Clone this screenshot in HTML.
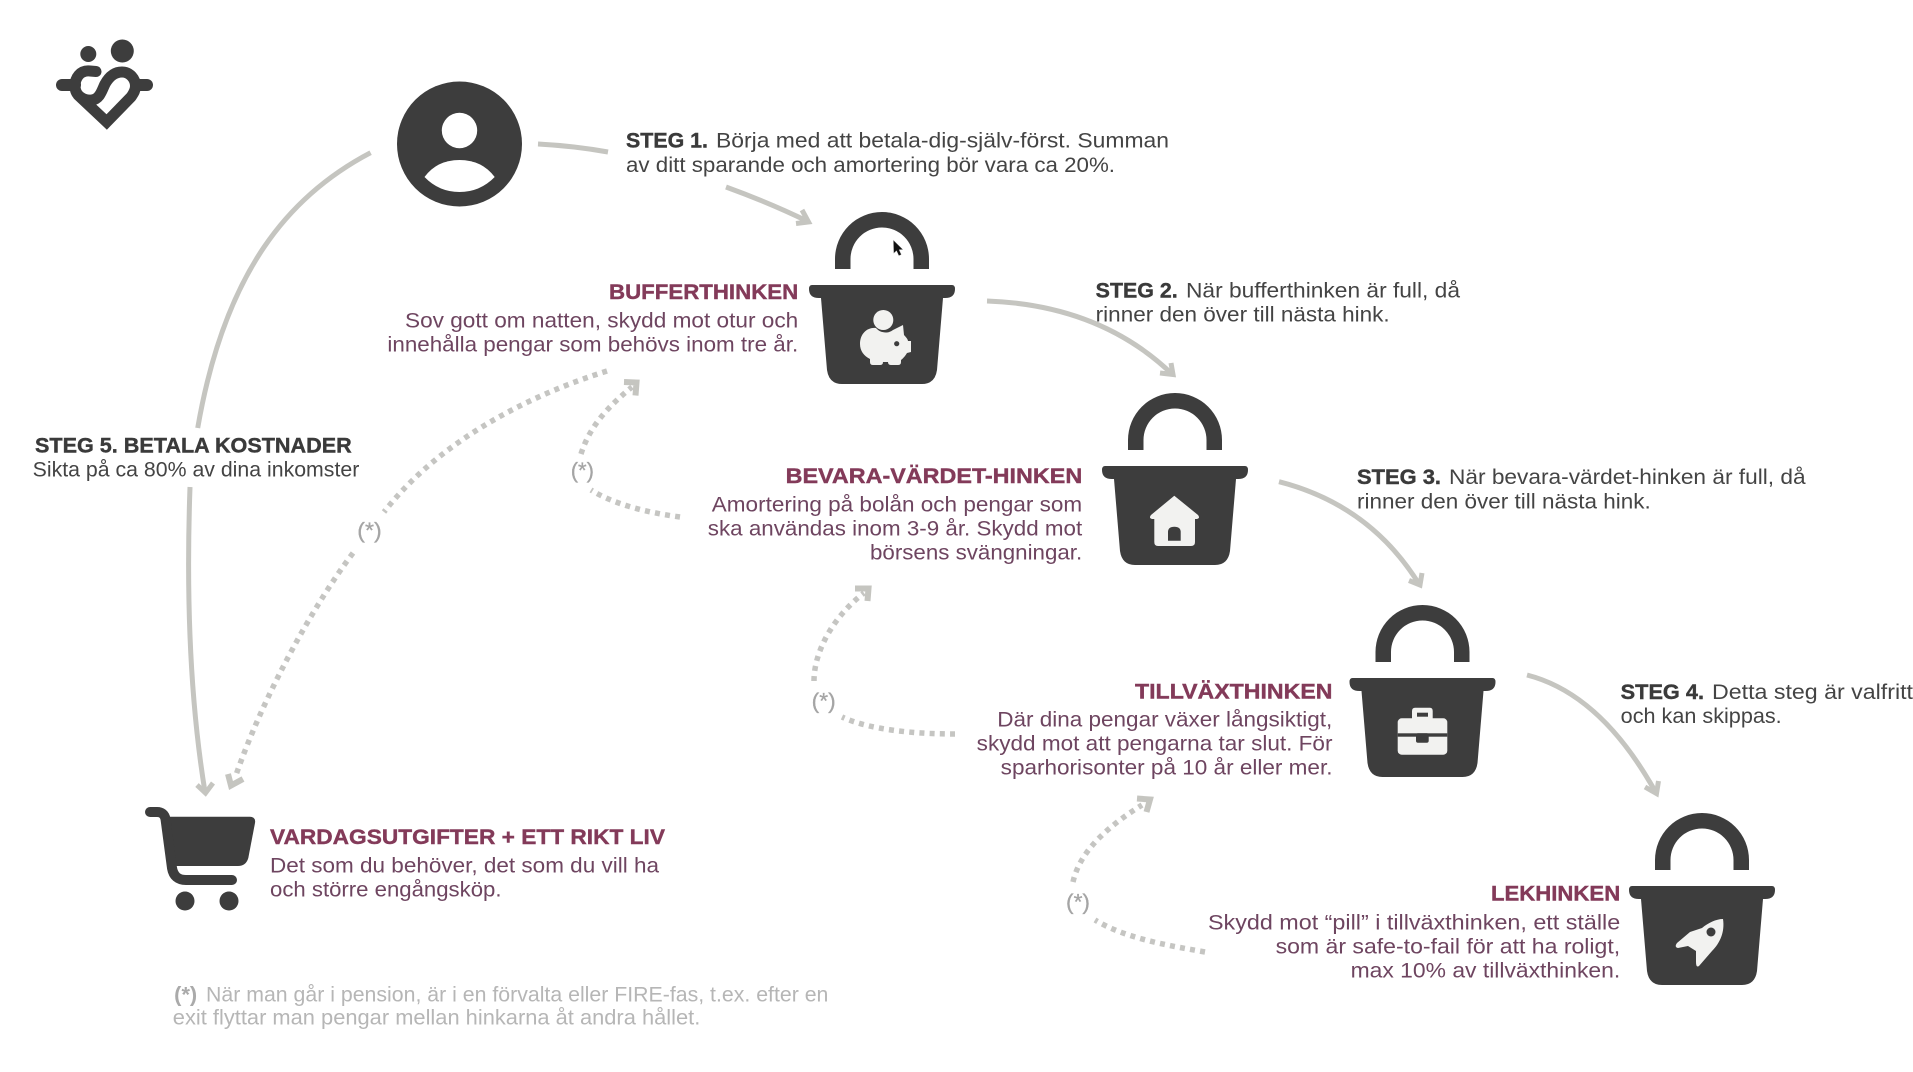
<!DOCTYPE html>
<html lang="sv">
<head>
<meta charset="utf-8">
<title>Hinkarna</title>
<style>
html,body{margin:0;padding:0;background:#fff;width:1913px;height:1072px;overflow:hidden}
svg{display:block}
text{font-family:"Liberation Sans",sans-serif;font-size:21px}
.d{fill:#444}
.db{fill:#3a3a3a;font-weight:bold;stroke:#3a3a3a;stroke-width:.4}
.p{fill:#6e4560}
.pb{fill:#833a59;font-weight:bold;stroke:#833a59;stroke-width:.4}
.g{fill:#b6b6b6}
.gb{fill:#aaa;font-weight:bold}
.s{fill:#a5a5a5;font-size:22px;stroke:#a5a5a5;stroke-width:.3}
.l{fill:none;stroke:#c5c5c0;stroke-width:5}
.a{fill:none;stroke:#c5c5c0;stroke-width:5;stroke-linejoin:miter}
.o{fill:none;stroke:#c5c5c2;stroke-width:5.5;stroke-dasharray:5 5.2}
.i{fill:#f2f2f0}
.k{fill:#3d3d3d}
</style>
</head>
<body>
<svg width="1913" height="1072" viewBox="0 0 1913 1072" xmlns="http://www.w3.org/2000/svg">
<defs>
<g id="b" fill="#3d3d3d">
<path d="M-47,57 V47 A47,47 0 0 1 47,47 V57 H31.5 V47 A31.5,31.5 0 0 0 -31.5,47 V57 Z"/>
<path d="M-70,73 H70 Q73,73 73,77 Q73,86 63,86 L61,86 L55,158 Q53,172 40,172 H-40 Q-53,172 -55,158 L-61,86 H-63 Q-73,86 -73,77 Q-73,73 -70,73 Z"/>
</g>
</defs>

<!-- logo -->
<g fill="#3d3d3d">
<circle cx="88.3" cy="54" r="8"/>
<circle cx="122.3" cy="51" r="11.5"/>
</g>
<g fill="none" stroke="#3d3d3d" stroke-width="11" stroke-linecap="round" stroke-linejoin="miter">
<path d="M96,71.5 L90,71 C80,70 75,78 75,86 C75,96 84,101 92,100 C100,99 102,90 105,84 C110,75 116,72 122,72 C130,72 135.5,79 135.5,86 C135.5,91 133,94 131,97 L106.7,122 L78,95"/>
<path d="M62,85 H75" stroke-width="12"/>
<path d="M136,85 H147" stroke-width="12"/>
</g>

<!-- person -->
<circle class="k" cx="459.5" cy="144" r="62.5"/>
<circle style="fill:#fff" cx="459.5" cy="130.5" r="17.7"/>
<path style="fill:#fff" d="M424.5,177 Q437,160 459.5,160 Q482,160 494.7,177 Q480,192 459.5,192 Q439,192 424.5,177 Z"/>

<!-- solid arrows -->
<path class="l" d="M538,144 Q575,146 608,152"/>
<path class="l" d="M726,187 Q770,203 808,221.5"/>
<path class="a" d="M802,210 L808.5,222 L796,223.5"/>
<path class="l" d="M987,301 Q1100,305 1172,374"/>
<path class="a" d="M1171,363 L1173,374.5 L1160,373"/>
<path class="l" d="M1279,481.7 Q1370,505 1419,584"/>
<path class="a" d="M1422,573 L1420,585 L1409,580.5"/>
<path class="l" d="M1527,675 Q1601,694 1655.5,792"/>
<path class="a" d="M1658.5,781 L1656.5,793.5 L1645,787"/>
<path class="l" d="M370.6,152.7 C290,195 225,270 197.7,428"/>
<path class="l" d="M190,487 C186,600 190,700 205,792"/>
<path class="a" d="M197,785 L205.5,793 L213,783"/>

<!-- dotted arrows -->
<path class="o" d="M607,371 C530,395 440,440 384,512"/>
<path class="o" d="M353,553 C310,610 262,700 236,775"/>
<path class="a" style="stroke-width:6" d="M228,774 L231,785.5 L243,779"/>
<path class="o" d="M680,517 C650,513 615,505 591,490"/>
<path class="o" d="M581,454 C590,425 610,405 632,387"/>
<path class="a" style="stroke-width:6" d="M624,382 L636.5,382.5 L635.5,395.5"/>
<path class="o" d="M955,734 C915,734 870,730 842,717"/>
<path class="o" d="M814,681 C814,650 835,615 864,593"/>
<path class="a" style="stroke-width:6" d="M855,588.5 L868.5,588.5 L867.5,601"/>
<path class="o" d="M1205,952 C1165,945 1125,938 1095,920"/>
<path class="o" d="M1073,882 C1080,850 1110,825 1142,805"/>
<path class="a" style="stroke-width:6" d="M1137,798.5 L1150,799.5 L1146.5,812"/>

<text class="s" x="357.3" y="538" textLength="24.4" lengthAdjust="spacingAndGlyphs">(*)</text>
<text class="s" x="570.7" y="478" textLength="23.3" lengthAdjust="spacingAndGlyphs">(*)</text>
<text class="s" x="811.7" y="708.5" textLength="24" lengthAdjust="spacingAndGlyphs">(*)</text>
<text class="s" x="1066" y="909.5" textLength="24" lengthAdjust="spacingAndGlyphs">(*)</text>

<!-- buckets -->
<use href="#b" x="882" y="212"/>
<use href="#b" x="1175" y="393"/>
<use href="#b" x="1422.5" y="605"/>
<use href="#b" x="1702" y="813"/>

<!-- piggy -->
<circle class="i" cx="883.3" cy="320" r="10"/>
<path class="i" d="M860,344 C860,333 868,327 876,328 C880,333 888,334 893,330 L903,325 L904,335 C907,338 908,340 908,341 L911,341 L911,352 L907,353 C904,358 901,360 901,360 L901,362 Q901,365 898,365 L891,365 Q888,365 888,362 L883,362 Q883,365 880,365 L873,365 Q870,365 870,362 L870,359 C864,356 860,351 860,344 Z"/>
<circle class="k" cx="896.7" cy="343.7" r="2.6"/>
<!-- cursor -->
<path fill="#111" stroke="#ddd" stroke-width="0.5" d="M893.3,240 L893.6,253.5 L896.5,250.8 L898.8,255.8 L901.4,254.6 L899.2,249.8 L903,249.6 Z"/>

<!-- house -->
<path class="i" d="M1174.3,495.7 L1198,515 Q1200.5,518 1197,519 L1195,519 L1195,542 Q1195,546 1191,546 L1158,546 Q1154.3,546 1154.3,542 L1154.3,519 L1152,519 Q1148.5,518 1151,515 Z"/>
<path class="k" d="M1168,540.7 V532 Q1168,526.7 1174.3,526.7 Q1180.7,526.7 1180.7,532 V540.7 Z"/>

<!-- briefcase -->
<path class="i" d="M1412,718.5 V711 Q1412,707.7 1415,707.7 H1430 Q1432.7,707.7 1432.7,711 V718.5 Z"/>
<rect class="i" x="1397.7" y="718.3" width="49.6" height="36.4" rx="4"/>
<rect class="k" x="1417" y="712.7" width="11" height="4"/>
<rect class="k" x="1397.7" y="733.3" width="49.6" height="3.4"/>
<rect class="k" x="1416" y="733.3" width="12.7" height="9.4" rx="2"/>

<!-- rocket -->
<path class="i" d="M1723,919 C1725,932 1720,943 1712,951 L1699,966 Q1696,968 1696,962 L1696,951 L1688,946 L1678,948 Q1674,947 1677,943 L1690,932 L1702,928 C1708,923 1716,919 1723,919 Z"/>
<circle class="k" cx="1711" cy="932" r="4.5"/>

<!-- cart -->
<g fill="#3d3d3d">
<path d="M168,816.7 H250 Q256,817 255,823 L248.3,858 Q246,866 238,866 H173 Z"/>
<circle cx="185" cy="901" r="9.5"/>
<circle cx="229" cy="901" r="9.5"/>
</g>
<path fill="none" stroke="#3d3d3d" stroke-width="10" stroke-linecap="round" stroke-linejoin="round" d="M150,812 H157 Q164,812 165.5,819 L172,868 Q174,880 186,880 H232"/>

<!-- step texts -->
<text class="db" x="626" y="147.3" textLength="82" lengthAdjust="spacingAndGlyphs">STEG 1.</text>
<text class="d" x="716" y="147.3" textLength="453" lengthAdjust="spacingAndGlyphs">Börja med att betala-dig-själv-först. Summan</text>
<text class="d" x="626" y="172" textLength="489" lengthAdjust="spacingAndGlyphs">av ditt sparande och amortering bör vara ca 20%.</text>

<text class="db" x="1095.7" y="297.3" textLength="82" lengthAdjust="spacingAndGlyphs">STEG 2.</text>
<text class="d" x="1186" y="297.3" textLength="274" lengthAdjust="spacingAndGlyphs">När bufferthinken är full, då</text>
<text class="d" x="1095.7" y="321.7" textLength="294" lengthAdjust="spacingAndGlyphs">rinner den över till nästa hink.</text>

<text class="db" x="1357" y="484" textLength="84" lengthAdjust="spacingAndGlyphs">STEG 3.</text>
<text class="d" x="1449" y="484" textLength="356.6" lengthAdjust="spacingAndGlyphs">När bevara-värdet-hinken är full, då</text>
<text class="d" x="1357" y="508.3" textLength="293.7" lengthAdjust="spacingAndGlyphs">rinner den över till nästa hink.</text>

<text class="db" x="1620.7" y="699" textLength="83.3" lengthAdjust="spacingAndGlyphs">STEG 4.</text>
<text class="d" x="1712" y="699" textLength="201" lengthAdjust="spacingAndGlyphs">Detta steg är valfritt</text>
<text class="d" x="1620.7" y="723" textLength="161" lengthAdjust="spacingAndGlyphs">och kan skippas.</text>

<text class="db" x="35" y="452.7" textLength="316.7" lengthAdjust="spacingAndGlyphs">STEG 5. BETALA KOSTNADER</text>
<text class="d" x="32.7" y="476.7" textLength="326.6" lengthAdjust="spacingAndGlyphs">Sikta på ca 80% av dina inkomster</text>

<!-- bucket texts -->
<text class="pb" x="609" y="298.8" textLength="189.2" lengthAdjust="spacingAndGlyphs">BUFFERTHINKEN</text>
<text class="p" x="405" y="327.3" textLength="393.2" lengthAdjust="spacingAndGlyphs">Sov gott om natten, skydd mot otur och</text>
<text class="p" x="387.4" y="351.7" textLength="410.8" lengthAdjust="spacingAndGlyphs">innehålla pengar som behövs inom tre år.</text>

<text class="pb" x="785.6" y="483" textLength="296.6" lengthAdjust="spacingAndGlyphs">BEVARA-VÄRDET-HINKEN</text>
<text class="p" x="711.8" y="511.7" textLength="370.4" lengthAdjust="spacingAndGlyphs">Amortering på bolån och pengar som</text>
<text class="p" x="707.8" y="535.7" textLength="374.4" lengthAdjust="spacingAndGlyphs">ska användas inom 3-9 år. Skydd mot</text>
<text class="p" x="870" y="559.3" textLength="212.2" lengthAdjust="spacingAndGlyphs">börsens svängningar.</text>

<text class="pb" x="1135" y="698.3" textLength="197.5" lengthAdjust="spacingAndGlyphs">TILLVÄXTHINKEN</text>
<text class="p" x="997.3" y="726.7" textLength="335" lengthAdjust="spacingAndGlyphs">Där dina pengar växer långsiktigt,</text>
<text class="p" x="976.7" y="750.7" textLength="355.8" lengthAdjust="spacingAndGlyphs">skydd mot att pengarna tar slut. För</text>
<text class="p" x="1000.7" y="774.7" textLength="331.8" lengthAdjust="spacingAndGlyphs">sparhorisonter på 10 år eller mer.</text>

<text class="pb" x="1491" y="900.6" textLength="129.2" lengthAdjust="spacingAndGlyphs">LEKHINKEN</text>
<text class="p" x="1208" y="929.3" textLength="412.2" lengthAdjust="spacingAndGlyphs">Skydd mot “pill” i tillväxthinken, ett ställe</text>
<text class="p" x="1275.6" y="953.3" textLength="344.6" lengthAdjust="spacingAndGlyphs">som är safe-to-fail för att ha roligt,</text>
<text class="p" x="1350.6" y="977.7" textLength="269.6" lengthAdjust="spacingAndGlyphs">max 10% av tillväxthinken.</text>

<text class="pb" x="270" y="844" textLength="395" lengthAdjust="spacingAndGlyphs">VARDAGSUTGIFTER + ETT RIKT LIV</text>
<text class="p" x="270" y="872.3" textLength="389" lengthAdjust="spacingAndGlyphs">Det som du behöver, det som du vill ha</text>
<text class="p" x="270" y="896.3" textLength="231.5" lengthAdjust="spacingAndGlyphs">och större engångsköp.</text>

<!-- footnote -->
<text class="gb" x="174.2" y="1001.3" textLength="23" lengthAdjust="spacingAndGlyphs">(*)</text>
<text class="g" x="206" y="1001.3" textLength="622.4" lengthAdjust="spacingAndGlyphs">När man går i pension, är i en förvalta eller FIRE-fas, t.ex. efter en</text>
<text class="g" x="172.8" y="1024.3" textLength="527.5" lengthAdjust="spacingAndGlyphs">exit flyttar man pengar mellan hinkarna åt andra hållet.</text>
</svg>
</body>
</html>
